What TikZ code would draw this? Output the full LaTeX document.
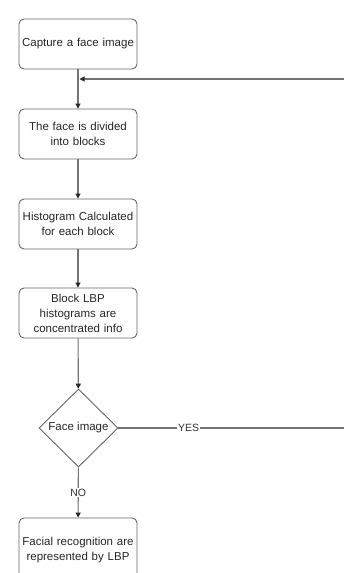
\documentclass[tikz,border=0pt]{standalone}
\usepackage{fontspec}
\setmainfont{Liberation Sans}
\usetikzlibrary{shapes.geometric,arrows.meta}
\begin{document}
\begin{tikzpicture}[x=1pt,y=-1pt,
 box/.style={draw=black!60, line width=0.9pt, rounded corners=5pt, minimum width=118pt, minimum height=50pt, text width=118pt, align=center, inner sep=0pt, font=\fontsize{11.5}{15}\selectfont, text=black!85},
 dec/.style={draw=black!60, line width=0.9pt, diamond, minimum width=79pt, minimum height=78pt, inner sep=0pt, font=\fontsize{11.5}{15}\selectfont, text=black!85},
 conn/.style={draw=black!55, line width=1.1pt, -{Triangle[width=5pt,length=5pt,color=black!85]}},
 lab/.style={fill=white, inner sep=1pt, font=\fontsize{10.5}{12}\selectfont, text=black!80}]
\useasboundingbox (0,0) rectangle (344,573);
\clip (0,0) rectangle (344,573);
\node[box] (b1) at (78,44) {Capture a face image};
\node[box] (b2) at (78,134) {The face is divided\\into blocks};
\node[box] (b3) at (78,224) {Histogram Calculated\\for each block};
\node[box] (b4) at (78,313) {Block LBP\\histograms are\\concentrated info};
\node[dec] (d) at (78.5,428) {Face image};
\node[box, minimum height=64pt] (b5) at (78,550) {Facial recognition are\\represented by LBP};
\coordinate (r1) at (352,428);
\coordinate (r2) at (352,79);
\coordinate (m) at (79.5,79);
\draw[conn] (b1) -- (b2);
\draw[conn] (b2) -- (b3);
\draw[conn] (b3) -- (b4);
\draw[conn] (b4) -- (d);
\draw[conn] (d) -- node[lab]{NO} (b5);
\draw[conn] (d.east) -- node[lab,pos=0.3]{YES} (r1) -- (r2) -- (m);
\end{tikzpicture}
\end{document}
